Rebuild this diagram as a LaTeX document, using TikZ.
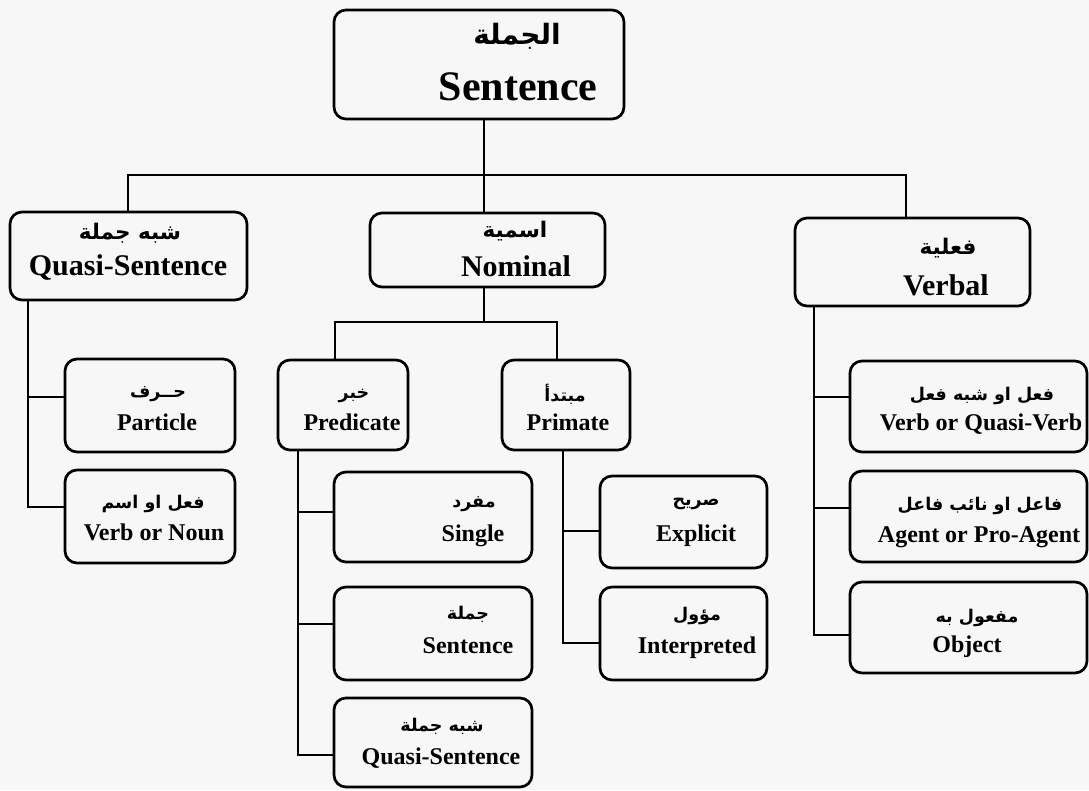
\documentclass[tikz,border=0pt]{standalone}
\usepackage{fontspec}
\setmainfont{Liberation Serif}
\newfontfamily\arabicfont[Script=Arabic]{DejaVu Sans}
\TeXXeTstate=1
\usetikzlibrary{fit}
\newcommand\rl[1]{\beginR#1\endR}

\tikzset{
  box/.style={draw, line width=2.7pt, rounded corners=12pt, inner sep=0pt, fit={#1}},
  link/.style={line width=2.5pt, line cap=rect},
  en/.style={font=\bfseries\fontsize{#1}{#1}\selectfont, anchor=base, inner sep=0pt},
  ar/.style={font=\arabicfont\bfseries\fontsize{#1}{#1}\selectfont, inner sep=0pt},
}

\begin{document}
\begin{tikzpicture}[x=1pt,y=-1pt]
\useasboundingbox (0,0) rectangle (1089,790);
\fill[black!3] (0,0) rectangle (1089,790);

% root
\node[box={(334,10) (624,119)}] (t) {};
\node[ar=28] (t-ar) at (517,36) {\rl{الجملة}};
\node[en=42] (t-en) at (518,100) {Sentence};

% second level
\node[box={(10,212) (247,300)}] (qs) {};
\node[ar=21.5] (qs-ar) at (130,233) {\rl{شبه جملة}};
\node[en=30] (qs-en) at (128,275) {Quasi-Sentence};

\node[box={(370,213) (605,287)}] (nom) {};
\node[ar=21.5] (nom-ar) at (515,231) {\rl{اسمية}};
\node[en=30] (nom-en) at (516,276) {Nominal};

\node[box={(795,218) (1030,306)}] (verb) {};
\node[ar=21.5] (verb-ar) at (948,248) {\rl{فعلية}};
\node[en=30] (verb-en) at (946,295) {Verbal};

% third level
\node[box={(278,360) (408,450)}] (pred) {};
\node[ar=17.5] (pred-ar) at (354,396) {\rl{خبر}};
\node[en=24] (pred-en) at (352,430) {Predicate};

\node[box={(502,360) (630,450)}] (prim) {};
\node[ar=17.5] (prim-ar) at (565,394) {\rl{مبتدأ}};
\node[en=24] (prim-en) at (568,430) {Primate};

\node[box={(65,359) (235,452)}] (part) {};
\node[ar=17.5] (part-ar) at (158,394) {\rl{حــرف}};
\node[en=24] (part-en) at (157,430) {Particle};

\node[box={(65,470) (235,563)}] (vn) {};
\node[ar=17.5] (vn-ar) at (153,504) {\rl{فعل او اسم}};
\node[en=24] (vn-en) at (154,540) {Verb or Noun};

\node[box={(334,472) (532,562)}] (sing) {};
\node[ar=17.5] (sing-ar) at (474,504) {\rl{مفرد}};
\node[en=24] (sing-en) at (473,541) {Single};

\node[box={(334,587) (532,680)}] (sent) {};
\node[ar=17.5] (sent-ar) at (468,614) {\rl{جملة}};
\node[en=24] (sent-en) at (468,653) {Sentence};

\node[box={(334,698) (532,787)}] (qs2) {};
\node[ar=17.5] (qs2-ar) at (442,726) {\rl{شبه جملة}};
\node[en=24] (qs2-en) at (441,764) {Quasi-Sentence};

\node[box={(600,476) (767,568)}] (expl) {};
\node[ar=17.5] (expl-ar) at (696,504) {\rl{صريح}};
\node[en=24] (expl-en) at (696,541) {Explicit};

\node[box={(600,587) (767,680)}] (interp) {};
\node[ar=17.5] (interp-ar) at (697,616) {\rl{مؤول}};
\node[en=24] (interp-en) at (697,653) {Interpreted};

\node[box={(850,361) (1087,452)}] (vqv) {};
\node[ar=17.5] (vqv-ar) at (982,396) {\rl{فعل او شبه فعل}};
\node[en=24] (vqv-en) at (981,430) {Verb or Quasi-Verb};

\node[box={(850,471) (1087,562)}] (agent) {};
\node[ar=17.5] (agent-ar) at (980,506) {\rl{فاعل او نائب فاعل}};
\node[en=24] (agent-en) at (979,542) {Agent or Pro-Agent};

\node[box={(850,582) (1087,673)}] (obj) {};
\node[ar=17.5] (obj-ar) at (977,618) {\rl{مفعول به}};
\node[en=24] (obj-en) at (967,652) {Object};

% connectors: root to second level
\coordinate (hub) at (484,175);
\coordinate (barL) at (128,175);
\coordinate (barR) at (906,175);
\draw[link] (hub |- t.south) -- (hub |- nom.north);
\draw[link] (barL) -- (barR);
\draw[link] (barL) -- (barL |- qs.north);
\draw[link] (barR) -- (barR |- verb.north);

% nominal branch
\coordinate (nL) at (335,322);
\coordinate (nR) at (557,322);
\draw[link] (hub |- nom.south) -- (hub |- nL);
\draw[link] (nL) -- (nR);
\draw[link] (nL) -- (nL |- pred.north);
\draw[link] (nR) -- (nR |- prim.north);

% quasi-sentence trunk
\coordinate (qx) at (28,0);
\draw[link] (qx |- qs.south) |- (vn.west |- 0,507);
\draw[link] (qx |- 0,397) -- (part.west |- 0,397);

% predicate trunk
\coordinate (px) at (298,0);
\draw[link] (px |- pred.south) |- (qs2.west |- 0,755);
\draw[link] (px |- 0,512) -- (sing.west |- 0,512);
\draw[link] (px |- 0,624) -- (sent.west |- 0,624);

% primate trunk
\coordinate (mx) at (563,0);
\draw[link] (mx |- prim.south) |- (interp.west |- 0,643);
\draw[link] (mx |- 0,531) -- (expl.west |- 0,531);

% verbal trunk
\coordinate (vx) at (814,0);
\draw[link] (vx |- verb.south) |- (obj.west |- 0,635);
\draw[link] (vx |- 0,397) -- (vqv.west |- 0,397);
\draw[link] (vx |- 0,508) -- (agent.west |- 0,508);
\end{tikzpicture}
\end{document}
